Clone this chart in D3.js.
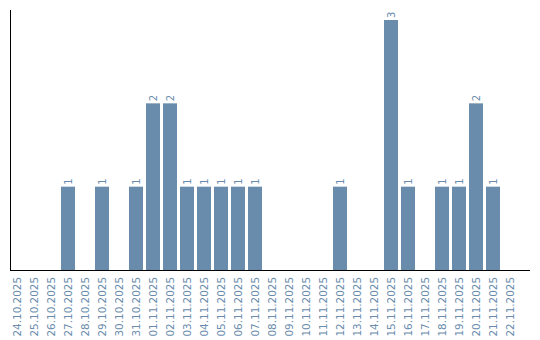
<!DOCTYPE html>
<html>
<head>
<meta charset="utf-8">
<script src="https://cdn.jsdelivr.net/npm/d3@7"></script>
<style>
  body { margin: 0; background: #fff; }
  text { font-family: "DejaVu Sans", Verdana, sans-serif; }
</style>
</head>
<body>
<div id="chart"></div>
<script>
const WIDTH = 540;
const HEIGHT = 340;
const LEFT = 10;
const TOP = 10;
const BASE = 270;
const BAR_COLOR = '#6a8cac';

const dates = [
  '24.10.2025', '25.10.2025', '26.10.2025', '27.10.2025', '28.10.2025',
  '29.10.2025', '30.10.2025', '31.10.2025', '01.11.2025', '02.11.2025',
  '03.11.2025', '04.11.2025', '05.11.2025', '06.11.2025', '07.11.2025',
  '08.11.2025', '09.11.2025', '10.11.2025', '11.11.2025', '12.11.2025',
  '13.11.2025', '14.11.2025', '15.11.2025', '16.11.2025', '17.11.2025',
  '18.11.2025', '19.11.2025', '20.11.2025', '21.11.2025', '22.11.2025'
];
const counts = [
  0, 0, 0, 1, 0,
  1, 0, 1, 2, 2,
  1, 1, 1, 1, 1,
  0, 0, 0, 0, 1,
  0, 0, 3, 1, 0,
  1, 1, 2, 1, 0
];

let data = dates.map((d, i) => ({date: d, count: counts[i]}));

let svg = d3.select('#chart').append('svg')
  .attr('width', WIDTH)
  .attr('height', HEIGHT);

let xScale = d3.scaleBand()
  .domain(dates)
  .range([LEFT, 517])
  .paddingInner(3 / 17)
  .paddingOuter(0);

let yScale = d3.scaleLinear()
  .domain([0, 3])
  .range([BASE, 20]);

// bars
svg.append('g')
  .selectAll('rect')
  .data(data.filter(d => d.count > 0))
  .enter()
  .append('rect')
  .attr('x', d => xScale(d.date))
  .attr('y', d => yScale(d.count))
  .attr('width', xScale.bandwidth())
  .attr('height', d => yScale(0) - yScale(d.count))
  .attr('fill', BAR_COLOR);

// value labels
svg.append('g')
  .selectAll('text')
  .data(data.filter(d => d.count > 0))
  .enter()
  .append('text')
  .attr('transform', d => `translate(${xScale(d.date) + xScale.bandwidth() / 2 + 3.5}, ${yScale(d.count) - 2}) rotate(-90)`)
  .attr('text-anchor', 'start')
  .attr('font-size', 10)
  .attr('fill', BAR_COLOR)
  .text(d => d.count);

// axes
let axes = svg.append('g');
axes.append('line')
  .attr('x1', LEFT + 0.5).attr('x2', LEFT + 0.5)
  .attr('y1', TOP).attr('y2', BASE)
  .attr('stroke', '#000');
axes.append('line')
  .attr('x1', LEFT).attr('x2', 530)
  .attr('y1', BASE + 0.5).attr('y2', BASE + 0.5)
  .attr('stroke', '#000');

// date labels
svg.append('g')
  .selectAll('text')
  .data(dates)
  .enter()
  .append('text')
  .attr('transform', d => `translate(${xScale(d) + xScale.bandwidth() / 2 + 3.5}, ${BASE + 7}) rotate(-90)`)
  .attr('text-anchor', 'end')
  .attr('font-size', 10.4)
  .attr('fill', BAR_COLOR)
  .text(d => d);
</script>
</body>
</html>
